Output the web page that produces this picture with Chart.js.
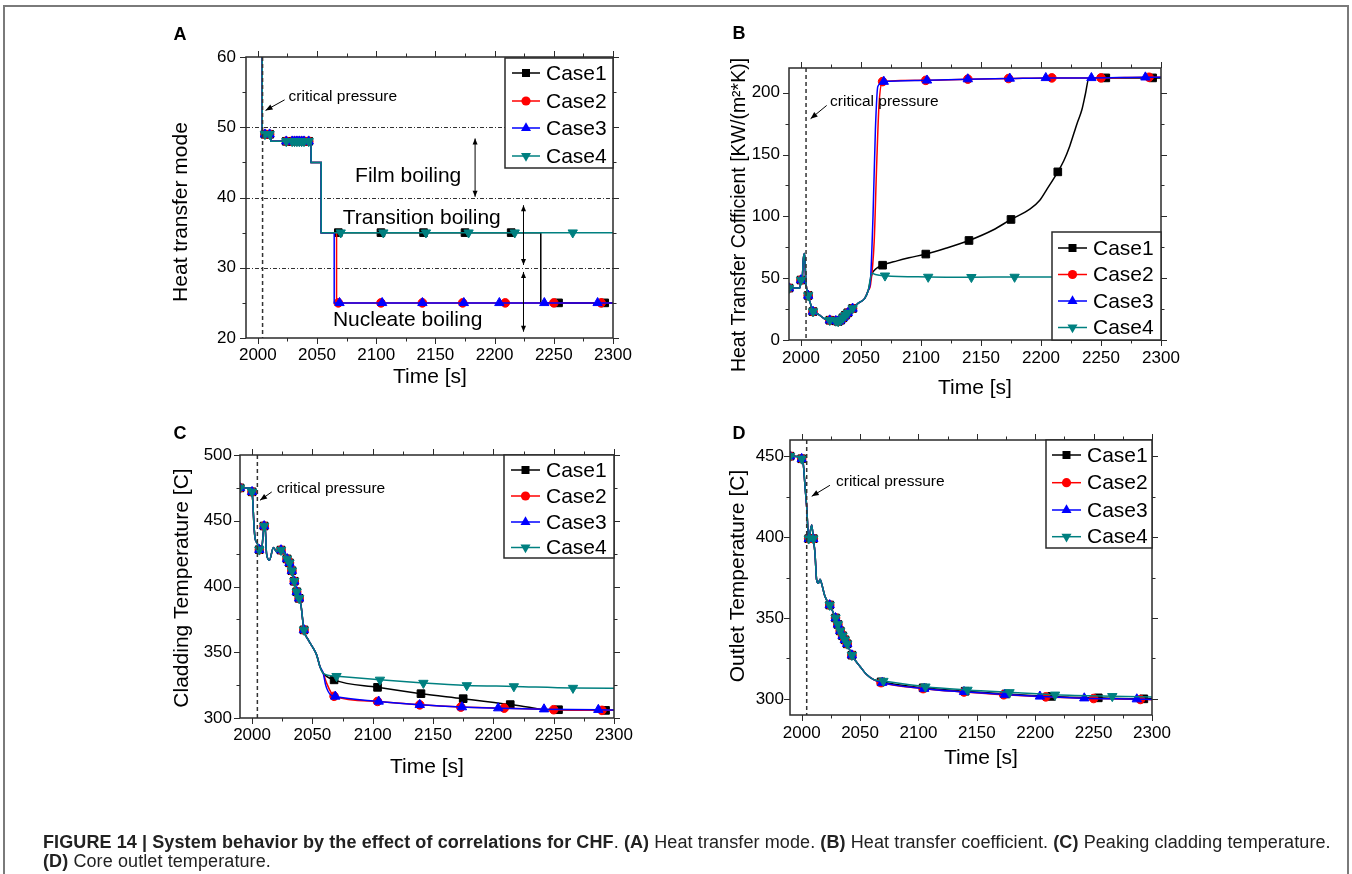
<!DOCTYPE html>
<html>
<head>
<meta charset="utf-8">
<script src="https://cdn.jsdelivr.net/npm/chart.js@4.4.1/dist/chart.umd.min.js"></script>
<style>
html, body { margin: 0; padding: 0; background: #fff; }
body { width: 1352px; height: 874px; position: relative; overflow: hidden; font-family: "Liberation Sans", Arial, sans-serif; }
canvas { position: absolute; left: 0; top: 0; }
#frame { position: absolute; left: 3px; top: 5px; width: 1342px; height: 900px; border: 2px solid #7a7a7a; }
#caption { position: absolute; left: 43px; top: 833px; font-size: 18px; letter-spacing: 0.1px; line-height: 19px; color: #222; white-space: nowrap; }
</style>
</head>
<body>
<div id="frame"></div>
<canvas id="cA" width="1352" height="874"></canvas>
<canvas id="cB" width="1352" height="874"></canvas>
<canvas id="cC" width="1352" height="874"></canvas>
<canvas id="cD" width="1352" height="874"></canvas>
<div id="caption"><b>FIGURE 14 | System behavior by the effect of correlations for CHF</b>. <b>(A)</b> Heat transfer mode. <b>(B)</b> Heat transfer coefficient. <b>(C)</b> Peaking cladding temperature.<br><b>(D)</b> Core outlet temperature.</div>
<script>
const caseNames = ['Case1', 'Case2', 'Case3', 'Case4'];
const caseColors = ['#000000', '#ff0000', '#0000ff', '#008080'];

const xMajor = [2000, 2050, 2100, 2150, 2200, 2250, 2300];
const xMinor = [2025, 2075, 2125, 2175, 2225, 2275];

// times where the markers sit
const markEarly = [1990, 2000, 2006, 2010, 2024, 2029, 2031, 2033, 2035, 2037, 2039, 2043];
const markCase1 = [2068, 2104, 2140, 2175, 2214, 2254, 2293];
const markCase2 = [2068, 2104, 2139, 2173, 2209, 2250, 2290];
const markCase3 = [2069, 2105, 2139, 2174, 2204, 2242, 2287];
const markCase4 = [2070, 2106, 2142, 2178, 2217, 2266];
const markLate = [markCase1, markCase2, markCase3, markCase4];

// A: heat transfer mode
const modeT = [1990, 2000, 2003.7, 2003.7, 2006, 2010, 2011, 2011, 2024, 2029, 2031, 2033, 2035, 2037, 2039, 2043, 2045, 2045, 2053.5, 2053.5];
const modeV = [70, 70, 70, 49, 49, 49, 49, 48, 48, 48, 48, 48, 48, 48, 48, 48, 48, 45, 45, 35];
const mode1T = [2068, 2104, 2140, 2175, 2214, 2239, 2239, 2254, 2293, 2300];
const mode1V = [35, 35, 35, 35, 35, 35, 25, 25, 25, 25];
const mode2T = [2066.5, 2066.5, 2068, 2104, 2139, 2173, 2209, 2250, 2290, 2300];
const mode2V = [35, 25, 25, 25, 25, 25, 25, 25, 25, 25];
const mode3T = [2064.5, 2064.5, 2069, 2105, 2139, 2174, 2204, 2242, 2287, 2300];
const mode3V = [35, 25, 25, 25, 25, 25, 25, 25, 25, 25];
const mode4T = [2070, 2106, 2142, 2178, 2217, 2266, 2300];
const mode4V = [35, 35, 35, 35, 35, 35, 35];

// B: heat transfer coefficient
const htcT = [1990, 1999, 2000, 2001, 2002, 2003, 2004, 2006, 2008, 2010, 2014, 2020, 2024, 2029, 2031, 2033, 2035, 2037, 2039, 2043, 2048, 2053, 2056];
const htcV = [42, 42, 48.5, 50, 66, 70, 48, 36, 29, 23, 21, 17, 16, 15.5, 15, 16, 18, 20, 22, 25.5, 30, 33.5, 40];
const htc1T = [2059, 2063, 2068, 2080, 2090, 2104, 2120, 2140, 2160, 2175, 2191, 2199, 2205, 2214, 2219, 2224, 2230, 2234, 2237, 2240, 2254, 2293, 2300];
const htc1V = [53, 58, 60.5, 64, 66.5, 69.5, 74, 80.5, 89, 97.5, 106, 113, 122, 136, 145, 157, 175, 186, 199, 212, 212, 212, 212];
const htc2T = [2058, 2061, 2063, 2065, 2068, 2104, 2139, 2173, 2209, 2250, 2290, 2300];
const htc2V = [45, 80, 140, 190, 209, 210, 211, 211.5, 212, 212, 212.5, 212.5];
const htc3T = [2058, 2060, 2062, 2064, 2069, 2105, 2139, 2174, 2204, 2242, 2287, 2300];
const htc3V = [50, 100, 170, 205, 209, 210, 211, 211.5, 212, 212, 212.5, 212.5];
const htc4T = [2059, 2062, 2070, 2106, 2142, 2178, 2217, 2266, 2300];
const htc4V = [54, 53, 52, 51, 50.8, 51, 51, 51.5, 51.5];

// C: cladding temperature
const cladT = [1990, 1998, 2000, 2001.7, 2002.5, 2004.4, 2006, 2008, 2010, 2011, 2012, 2014.4, 2017.7, 2020.4, 2021.8, 2024, 2027.3, 2029, 2031, 2033, 2035, 2037, 2039, 2040.5, 2043, 2046.6, 2050.8, 2053.5, 2056.3, 2059];
const cladV = [475, 475, 472, 445, 436.5, 432.7, 428, 429, 446, 443, 425, 420, 429.7, 426.4, 429, 427.7, 425, 421, 418, 412, 404, 396, 391, 386, 367, 359.4, 353, 348, 339, 334];
const clad1T = [2068, 2104, 2140, 2175, 2214, 2233, 2243, 2254, 2293, 2300];
const clad1V = [329, 323.3, 318.5, 314.7, 310.2, 307.6, 306.3, 306.3, 305.8, 305.8];
const clad2T = [2061.8, 2066, 2068, 2104, 2139, 2173, 2209, 2250, 2290, 2300];
const clad2V = [326.5, 318.5, 316.5, 312.6, 310, 308.3, 307.5, 306.3, 305.8, 305.8];
const clad3T = [2061, 2065, 2069, 2105, 2139, 2174, 2204, 2242, 2287, 2300];
const clad3V = [325, 317.7, 316.4, 312.6, 310, 308.3, 307.5, 306.7, 306.3, 306];
const clad4T = [2070, 2106, 2142, 2178, 2217, 2266, 2300];
const clad4V = [331.8, 329, 326.6, 324.8, 324, 322.8, 322.7];

// D: outlet temperature
const outT = [1990, 1998.6, 2000, 2001.4, 2002.9, 2004.3, 2006, 2008.6, 2010, 2011.4, 2012.8, 2014.3, 2015.7, 2017, 2020, 2024, 2029, 2031, 2033, 2035, 2037, 2039, 2043, 2050, 2055.6, 2061.3];
const outV = [450, 449.4, 448.4, 445, 431, 418.6, 399, 407.5, 399, 390, 373.5, 371.4, 373.9, 371.4, 363.2, 358, 350, 346, 342, 339, 336.5, 334, 327, 320, 315, 312];
const out1T = [2068, 2104, 2140, 2175, 2214, 2254, 2293, 2300];
const out1V = [310.5, 306.8, 304.7, 303, 301.5, 300.6, 300, 300];
const out2T = [2068, 2104, 2139, 2173, 2209, 2250, 2290, 2300];
const out2V = [310, 306.3, 304.2, 302.5, 301.2, 300.2, 299.6, 299.5];
const out3T = [2069, 2105, 2139, 2174, 2204, 2242, 2287, 2300];
const out3V = [310, 306.3, 304.3, 302.6, 301.5, 300.4, 299.8, 299.6];
const out4T = [2070, 2106, 2142, 2178, 2217, 2266, 2300];
const out4V = [311, 307.5, 305.5, 304, 302.5, 301.6, 301.2];

const FONT = '"Liberation Sans", Arial, sans-serif';
Chart.defaults.font.family = FONT;
Chart.defaults.color = '#000';

const specs = [
  {
    canvas: 'cA', area: { l: 246, t: 57, r: 613, b: 338 },
    yMin: 20, yMax: 60, yMajor: [20, 30, 40, 50, 60], yMinor: [25, 35, 45, 55],
    xPad: 7, yPad: 10, smooth: false,
    head: [modeT, modeV],
    tails: [[mode1T, mode1V], [mode2T, mode2V], [mode3T, mode3V], [mode4T, mode4V]],
    yTitle: { text: 'Heat transfer mode', x: 181, y: 212, size: 21 },
    xTitle: { text: 'Time [s]', x: 430, y: 377 },
    letter: { text: 'A', x: 180, y: 35 },
    legend: { x: 505, y: 58, w: 108, h: 110, rows: [73, 101, 128, 156], l0: 512, l1: 540, tx: 546 },
    vline: 2004, hlines: [50, 40, 30],
    texts: [
      { t: 'critical pressure', x: 2026, y: 54.4, size: 15.5, align: 'left' },
      { t: 'Film boiling', x: 2127, y: 43.1, size: 21, align: 'center' },
      { t: 'Transition boiling', x: 2138.5, y: 37.0, size: 21, align: 'center' },
      { t: 'Nucleate boiling', x: 2126.5, y: 22.6, size: 21, align: 'center' }
    ],
    arrows: [{ x1: 2022.6, y1: 53.9, x2: 2006.5, y2: 52.4 }],
    dArrows: [{ x: 2183.5, y1: 48.4, y2: 40.1 }, { x: 2224.4, y1: 38.9, y2: 30.4 }, { x: 2224.4, y1: 29.4, y2: 20.9 }]
  },
  {
    canvas: 'cB', area: { l: 789, t: 68, r: 1161, b: 340 },
    yMin: 0, yMax: 220, yMajor: [0, 50, 100, 150, 200], yMinor: [25, 75, 125, 175],
    xPad: 8, yPad: 9, smooth: true,
    head: [htcT, htcV],
    tails: [[htc1T, htc1V], [htc2T, htc2V], [htc3T, htc3V], [htc4T, htc4V]],
    yTitle: { text: 'Heat Transfer Cofficient [KW/(m\u00b2*K)]', x: 740, y: 215, size: 19.5 },
    xTitle: { text: 'Time [s]', x: 975, y: 388 },
    letter: { text: 'B', x: 739, y: 34 },
    legend: { x: 1052, y: 232, w: 109, h: 108, rows: [248, 274.5, 301, 327.5], l0: 1058, l1: 1087, tx: 1093 },
    vline: 2004.2, hlines: [],
    texts: [{ t: 'critical pressure', x: 2024.2, y: 193, size: 15.5, align: 'left' }],
    arrows: [{ x1: 2021.4, y1: 189.7, x2: 2008, y2: 179 }],
    dArrows: []
  },
  {
    canvas: 'cC', area: { l: 240, t: 455, r: 614, b: 718 },
    yMin: 300, yMax: 500, yMajor: [300, 350, 400, 450, 500], yMinor: [325, 375, 425, 475],
    xPad: 7, yPad: 8, smooth: true,
    head: [cladT, cladV],
    tails: [[clad1T, clad1V], [clad2T, clad2V], [clad3T, clad3V], [clad4T, clad4V]],
    yTitle: { text: 'Cladding Temperature [C]', x: 182, y: 588, size: 21 },
    xTitle: { text: 'Time [s]', x: 427, y: 767 },
    letter: { text: 'C', x: 180, y: 434 },
    legend: { x: 504, y: 455, w: 110, h: 103, rows: [470, 496, 522, 547.5], l0: 511, l1: 540, tx: 546 },
    vline: 2004.4, hlines: [],
    texts: [{ t: 'critical pressure', x: 2020.4, y: 474.5, size: 15.5, align: 'left' }],
    arrows: [{ x1: 2016.3, y1: 471.9, x2: 2006.6, y2: 465.6 }],
    dArrows: []
  },
  {
    canvas: 'cD', area: { l: 790, t: 440, r: 1152, b: 715 },
    yMin: 290, yMax: 460, yMajor: [300, 350, 400, 450], yMinor: [325, 375, 425],
    xPad: 8, yPad: 6, smooth: true,
    head: [outT, outV],
    tails: [[out1T, out1V], [out2T, out2V], [out3T, out3V], [out4T, out4V]],
    yTitle: { text: 'Outlet Temperature [C]', x: 738, y: 576, size: 21 },
    xTitle: { text: 'Time [s]', x: 981, y: 758 },
    letter: { text: 'D', x: 739, y: 434 },
    legend: { x: 1046, y: 440, w: 106, h: 108, rows: [455, 482.7, 510, 536.7], l0: 1052, l1: 1081, tx: 1087 },
    vline: 2004.3, hlines: [],
    texts: [{ t: 'critical pressure', x: 2029.4, y: 434.4, size: 15.5, align: 'left' }],
    arrows: [{ x1: 2024.2, y1: 432, x2: 2008.6, y2: 425.2 }],
    dArrows: []
  }
];

function drawMarker(ctx, k, x, y) {
  ctx.fillStyle = caseColors[k];
  ctx.beginPath();
  if (k === 0) {
    ctx.rect(x - 4, y - 4, 8, 8);
  } else if (k === 1) {
    ctx.arc(x, y, 4.6, 0, Math.PI * 2);
  } else {
    const r = 5.8, s = k === 2 ? 1 : -1;
    ctx.moveTo(x, y - s * r);
    ctx.lineTo(x + r * 0.866, y + s * r * 0.5);
    ctx.lineTo(x - r * 0.866, y + s * r * 0.5);
    ctx.closePath();
  }
  ctx.fill();
}

function arrowHead(ctx, x1, y1, x2, y2, L, W) {
  const a = Math.atan2(y2 - y1, x2 - x1);
  const c = Math.cos(a), s = Math.sin(a);
  ctx.beginPath();
  ctx.moveTo(x2, y2);
  ctx.lineTo(x2 - L * c + W * s, y2 - L * s - W * c);
  ctx.lineTo(x2 - L * c - W * s, y2 - L * s + W * c);
  ctx.closePath();
  ctx.fill();
}

function makeDeco(sp) {
  return {
    id: 'deco',
    beforeDatasetsDraw(chart) {
      const { ctx, chartArea: a, scales: { y } } = chart;
      ctx.save();
      ctx.strokeStyle = '#333';
      ctx.lineWidth = 1;
      ctx.setLineDash([4, 2, 1, 2]);
      sp.hlines.forEach(v => {
        const py = Math.round(y.getPixelForValue(v)) + 0.5;
        ctx.beginPath();
        ctx.moveTo(a.left, py);
        ctx.lineTo(a.right, py);
        ctx.stroke();
      });
      ctx.restore();
    },
    afterDatasetsDraw(chart) {
      const { ctx, chartArea: a, scales: { x, y } } = chart;
      ctx.save();
      // critical pressure line
      const vx = x.getPixelForValue(sp.vline);
      ctx.strokeStyle = '#333';
      ctx.lineWidth = 1.5;
      ctx.setLineDash([4, 3]);
      ctx.beginPath();
      ctx.moveTo(vx, a.top);
      ctx.lineTo(vx, a.bottom);
      ctx.stroke();
      ctx.setLineDash([]);

      // arrows
      ctx.strokeStyle = '#000';
      ctx.fillStyle = '#000';
      ctx.lineWidth = 1;
      sp.arrows.forEach(ar => {
        const x1 = x.getPixelForValue(ar.x1), y1 = y.getPixelForValue(ar.y1);
        const x2 = x.getPixelForValue(ar.x2), y2 = y.getPixelForValue(ar.y2);
        ctx.beginPath();
        ctx.moveTo(x1, y1);
        ctx.lineTo(x2, y2);
        ctx.stroke();
        arrowHead(ctx, x1, y1, x2, y2, 7, 2.8);
      });
      sp.dArrows.forEach(ar => {
        const px = x.getPixelForValue(ar.x);
        const y1 = y.getPixelForValue(ar.y1), y2 = y.getPixelForValue(ar.y2);
        ctx.beginPath();
        ctx.moveTo(px, y1);
        ctx.lineTo(px, y2);
        ctx.stroke();
        arrowHead(ctx, px, y2, px, y1, 6, 2.5);
        arrowHead(ctx, px, y1, px, y2, 6, 2.5);
      });

      // texts
      ctx.textBaseline = 'middle';
      sp.texts.forEach(tx => {
        ctx.font = tx.size + 'px ' + FONT;
        ctx.textAlign = tx.align;
        ctx.fillText(tx.t, x.getPixelForValue(tx.x), y.getPixelForValue(tx.y));
      });

      // plot frame
      ctx.strokeStyle = '#2a2a2a';
      ctx.lineWidth = 1.5;
      ctx.strokeRect(a.left, a.top, a.right - a.left, a.bottom - a.top);

      // ticks on all four sides
      ctx.lineWidth = 1;
      const tick = (x1, y1, x2, y2) => { ctx.beginPath(); ctx.moveTo(x1, y1); ctx.lineTo(x2, y2); ctx.stroke(); };
      [[xMajor, 6], [xMinor, 3.5]].forEach(([vals, len]) => vals.forEach(v => {
        const px = Math.round(x.getPixelForValue(v)) + 0.5;
        tick(px, a.bottom, px, a.bottom + len);
        tick(px, a.top, px, a.top - len);
      }));
      [[sp.yMajor, 6], [sp.yMinor, 3.5]].forEach(([vals, len]) => vals.forEach(v => {
        const py = Math.round(y.getPixelForValue(v)) + 0.5;
        tick(a.left - len, py, a.left, py);
        tick(a.right, py, a.right + len, py);
      }));

      // legend
      const L = sp.legend;
      ctx.fillStyle = '#fff';
      ctx.fillRect(L.x, L.y, L.w, L.h);
      ctx.strokeStyle = '#2a2a2a';
      ctx.lineWidth = 1.5;
      ctx.strokeRect(L.x, L.y, L.w, L.h);
      ctx.font = '21px ' + FONT;
      ctx.textAlign = 'left';
      ctx.textBaseline = 'middle';
      caseNames.forEach((name, k) => {
        const ry = L.rows[k];
        ctx.strokeStyle = caseColors[k];
        ctx.lineWidth = 1.5;
        ctx.beginPath();
        ctx.moveTo(L.l0, ry);
        ctx.lineTo(L.l1, ry);
        ctx.stroke();
        drawMarker(ctx, k, (L.l0 + L.l1) / 2, ry);
        ctx.fillStyle = '#000';
        ctx.fillText(name, L.tx, ry + 1);
      });

      // axis titles and panel letter
      ctx.fillStyle = '#000';
      ctx.textAlign = 'center';
      ctx.font = '21px ' + FONT;
      ctx.fillText(sp.xTitle.text, sp.xTitle.x, sp.xTitle.y);
      ctx.save();
      ctx.translate(sp.yTitle.x, sp.yTitle.y);
      ctx.rotate(-Math.PI / 2);
      ctx.font = sp.yTitle.size + 'px ' + FONT;
      ctx.fillText(sp.yTitle.text, 0, 0);
      ctx.restore();
      ctx.font = 'bold 18px ' + FONT;
      ctx.fillText(sp.letter.text, sp.letter.x, sp.letter.y);
      ctx.restore();
    }
  };
}

function buildCase(sp, k) {
  const marks = new Set(markEarly.concat(markLate[k]));
  const ts = sp.head[0].concat(sp.tails[k][0]);
  const vs = sp.head[1].concat(sp.tails[k][1]);
  return {
    label: caseNames[k],
    data: ts.map((t, i) => ({ x: t, y: vs[i] })),
    borderColor: caseColors[k],
    backgroundColor: caseColors[k],
    pointBorderColor: caseColors[k],
    borderWidth: 1.5,
    pointStyle: k === 0 ? 'rect' : (k === 1 ? 'circle' : 'triangle'),
    rotation: k === 3 ? 180 : 0,
    pointRadius: c => (c.raw && marks.has(c.raw.x)) ? (k === 1 ? 4.3 : 5.4) : 0,
    pointBorderWidth: 1,
    tension: 0,
    cubicInterpolationMode: sp.smooth ? 'monotone' : 'default',
    order: 4 - k
  };
}

specs.forEach(sp => {
  const A = sp.area;
  const allX = xMajor.concat(xMinor).sort((p, q) => p - q);
  const allY = sp.yMajor.concat(sp.yMinor).sort((p, q) => p - q);
  new Chart(document.getElementById(sp.canvas), {
    type: 'line',
    data: { datasets: [0, 1, 2, 3].map(k => buildCase(sp, k)) },
    options: {
      responsive: false,
      animation: false,
      devicePixelRatio: 1,
      events: [],
      layout: { padding: { left: A.l - 50, top: A.t, right: 1352 - A.r, bottom: 874 - A.b - 40 } },
      plugins: { legend: { display: false }, tooltip: { enabled: false } },
      scales: {
        x: {
          type: 'linear', min: 1990, max: 2300,
          afterBuildTicks: s => { s.ticks = allX.map(v => ({ value: v })); },
          afterFit: s => { s.height = 40; },
          grid: { display: false, drawTicks: false }, border: { display: false },
          ticks: {
            autoSkip: false, maxRotation: 0, padding: sp.xPad, color: '#000',
            font: { size: 17 },
            callback: v => xMajor.includes(v) ? String(v) : ''
          }
        },
        y: {
          type: 'linear', min: sp.yMin, max: sp.yMax,
          afterBuildTicks: s => { s.ticks = allY.map(v => ({ value: v })); },
          afterFit: s => { s.width = 50; },
          grid: { display: false, drawTicks: false }, border: { display: false },
          ticks: {
            autoSkip: false, padding: sp.yPad, color: '#000',
            font: { size: 17 },
            callback: v => sp.yMajor.includes(v) ? String(v) : ''
          }
        }
      }
    },
    plugins: [makeDeco(sp)]
  });
});
</script>
</body>
</html>
